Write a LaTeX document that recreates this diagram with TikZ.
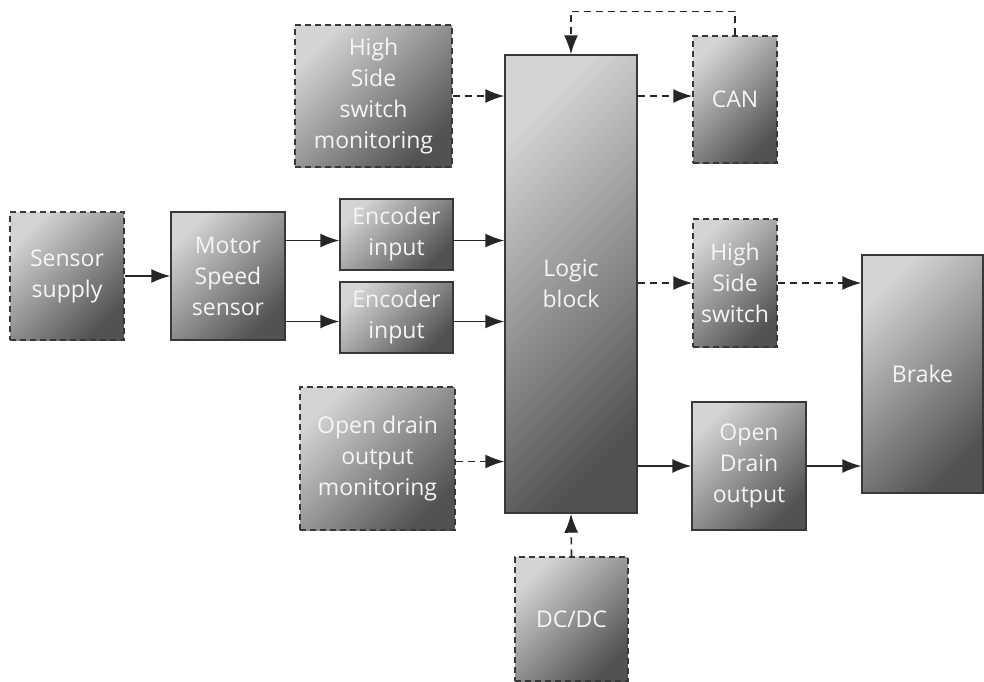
\documentclass[tikz,border=0pt]{standalone}
\usepackage{fontspec}
\setmainfont{Open Sans}
\usetikzlibrary{arrows.meta,positioning,calc}

\tikzset{
    block/.style={draw=black!78, line width=0.7pt,
        top color=black!17, bottom color=black!68, shading angle=45,
        text=white!96!black, align=center, inner sep=0pt,
        font=\fontsize{11.5}{15.5}\selectfont},
    optblock/.style={block, dash pattern=on 3pt off 2pt},
    link/.style={draw=black!85, line width=0.8pt, -{Latex[length=9.5pt,width=7pt]}},
    optlink/.style={link, dash pattern=on 3.5pt off 2.5pt},
}

\begin{document}
\begin{tikzpicture}[x=0.5pt, y=-0.5pt]
    \useasboundingbox (0,0) rectangle (984,681);

    % Blocks
    \node [optblock, minimum width=78.5pt, minimum height=71pt] (hsmon) at (373.5,96) {High\\Side\\switch\\monitoring};
    \node [block, minimum width=66pt, minimum height=229pt] (logic) at (571,284) {Logic\\block};
    \node [optblock, minimum width=42pt, minimum height=63.5pt] (can) at (735,99.5) {CAN};
    \node [optblock, minimum width=57pt, minimum height=64pt] (supply) at (67,276) {Sensor\\supply};
    \node [block, minimum width=57pt, minimum height=64pt] (motor) at (228,276) {Motor\\Speed\\sensor};
    \node [block, minimum width=56.5pt, minimum height=35.5pt] (enca) at (396.5,234.5) {Encoder\\input};
    \node [block, minimum width=56.5pt, minimum height=35.5pt] (encb) at (396.5,317.5) {Encoder\\input};
    \node [optblock, minimum width=42pt, minimum height=64pt] (hss) at (735,283) {High\\Side\\switch};
    \node [block, minimum width=60.5pt, minimum height=119pt] (brake) at (922.5,374) {Brake};
    \node [optblock, minimum width=77.5pt, minimum height=71.5pt] (odmon) at (377.5,458.5) {Open drain\\output\\monitoring};
    \node [block, minimum width=57pt, minimum height=64pt] (odout) at (749,466) {Open\\Drain\\output};
    \node [optblock, minimum width=56.5pt, minimum height=62pt] (dcdc) at (571.5,619) {DC/DC};

    % Connections
    \draw [optlink] (hsmon.east) -- (hsmon.east -| logic.west);
    \draw [optlink] (logic.east |- hsmon.east) -- (hsmon.east -| can.west);
    \draw [optlink] (can.north) -- ++(0,-24) -| (logic.north);
    \draw [link] (supply) -- (motor);
    \draw [link] ($(motor.east |- enca.east)+(0,6)$) -- ($(enca.west)+(0,6)$);
    \draw [link] ($(motor.east |- encb.east)+(0,4)$) -- ($(encb.west)+(0,4)$);
    \draw [link] ($(enca.east)+(0,6)$) -- ($(enca.east -| logic.west)+(0,6)$);
    \draw [link] ($(encb.east)+(0,4)$) -- ($(encb.east -| logic.west)+(0,4)$);
    \draw [optlink] (logic.east |- hss.west) -- (hss.west);
    \draw [optlink] (hss.east) -- (hss.east -| brake.west);
    \draw [optlink] ($(odmon.east)+(0,3)$) -- ($(odmon.east -| logic.west)+(0,3)$);
    \draw [link] (logic.east |- odout.west) -- (odout.west);
    \draw [link] (odout.east) -- (odout.east -| brake.west);
    \draw [optlink] (dcdc.north) -- (logic.south);
\end{tikzpicture}
\end{document}
